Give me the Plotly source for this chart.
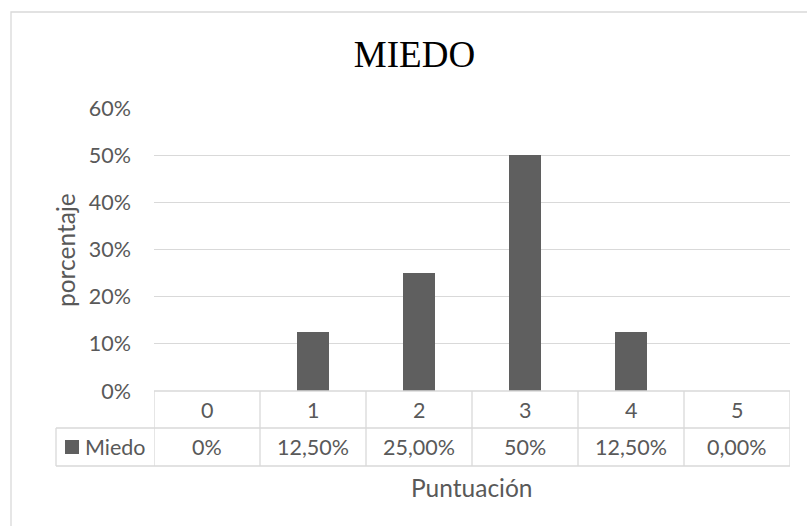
import plotly.graph_objects as go

# ---- data ----
categories = ["0", "1", "2", "3", "4", "5"]
values = [0.0, 0.125, 0.25, 0.5, 0.125, 0.0]
table_labels = ["0%", "12,50%", "25,00%", "50%", "12,50%", "0,00%"]
series_name = "Miedo"
title_text = "MIEDO"
x_title = "Puntuación"
y_title = "porcentaje"
y_ticks = [0, 0.1, 0.2, 0.3, 0.4, 0.5, 0.6]

W, H = 807, 526
L, R, T, B = 154, 790, 108, 391  # plot area pixels
pw, ph = R - L, B - T

def px(x):
    return (x - L) / pw

def py(y):
    return (B - y) / ph

GRID = "#d9d9d9"
TXT = "#595959"
BAR = "#5f5f5f"
FONT = "Lato"
FS = 21.5
FT = 24.5

xs = list(range(len(categories)))

fig = go.Figure()
fig.add_trace(go.Bar(x=xs, y=values, width=0.31, marker=dict(color=BAR, line=dict(width=0)),
                     name=series_name, showlegend=False))

shapes = []
line = dict(color=GRID, width=1.3)
n = len(categories)
# horizontal table lines
shapes.append(dict(type="line", xref="x", yref="paper", x0=-0.5, x1=n - 0.5, y0=py(391), y1=py(391), line=line))
shapes.append(dict(type="line", xref="paper", yref="paper", x0=px(56), x1=1, y0=py(428), y1=py(428), line=line))
shapes.append(dict(type="line", xref="paper", yref="paper", x0=px(56), x1=1, y0=py(466), y1=py(466), line=line))
# vertical table lines
shapes.append(dict(type="line", xref="paper", yref="paper", x0=px(56), x1=px(56), y0=py(428), y1=py(466), line=line))
for k in range(n + 1):
    shapes.append(dict(type="line", xref="x", yref="paper", x0=k - 0.5, x1=k - 0.5, y0=py(391), y1=py(466), line=line))
# legend key swatch
shapes.append(dict(type="rect", xref="paper", yref="paper", x0=px(65), x1=px(79), y0=py(454), y1=py(440),
                   fillcolor=BAR, line=dict(width=0)))
# chart border
shapes.append(dict(type="rect", xref="paper", yref="paper", x0=px(11), x1=px(840), y0=py(12), y1=py(600),
                   line=dict(color=GRID, width=1.3), fillcolor="rgba(0,0,0,0)"))

annotations = []
for k, c in enumerate(categories):
    annotations.append(dict(x=k, y=py(410), xref="x", yref="paper", text=c, showarrow=False,
                            xanchor="center", yanchor="middle", font=dict(family=FONT, size=FS, color=TXT)))
    annotations.append(dict(x=k, y=py(447), xref="x", yref="paper", text=table_labels[k], showarrow=False,
                            xanchor="center", yanchor="middle", font=dict(family=FONT, size=FS, color=TXT)))
annotations.append(dict(x=px(83), y=py(447), xref="paper", yref="paper", text=series_name, showarrow=False,
                        xanchor="left", yanchor="middle", font=dict(family=FONT, size=FS, color=TXT)))
annotations.append(dict(x=px(472), y=py(487), xref="paper", yref="paper", text=x_title, showarrow=False,
                        xanchor="center", yanchor="middle", font=dict(family=FONT, size=FT, color=TXT)))
annotations.append(dict(x=px(65), y=py(250), xref="paper", yref="paper", text=y_title, showarrow=False,
                        textangle=-90, xanchor="center", yanchor="middle", font=dict(family=FONT, size=FT, color=TXT)))

fig.update_layout(
    width=W, height=H,
    margin=dict(l=L, r=W - R, t=T, b=H - B, pad=0),
    paper_bgcolor="white", plot_bgcolor="white",
    title=dict(text=title_text, x=414.5 / W, xanchor="center", y=1 - 54.5 / H, yanchor="middle",
               xref="container", yref="container",
               font=dict(family="Liberation Serif", size=37, color="black")),
    xaxis=dict(range=[-0.5, n - 0.5], showticklabels=False, showgrid=False, zeroline=False,
               showline=False, ticks="", fixedrange=True),
    yaxis=dict(range=[0, 0.6], tickvals=y_ticks, tickformat=".0%", showgrid=True, gridcolor=GRID,
               gridwidth=1.3, zeroline=False, showline=False, ticks="", ticklabelstandoff=22,
               tickfont=dict(family=FONT, size=FS, color=TXT)),
    shapes=shapes,
    annotations=annotations,
    showlegend=False,
    bargap=0,
)

fig.write_html("out.html")
